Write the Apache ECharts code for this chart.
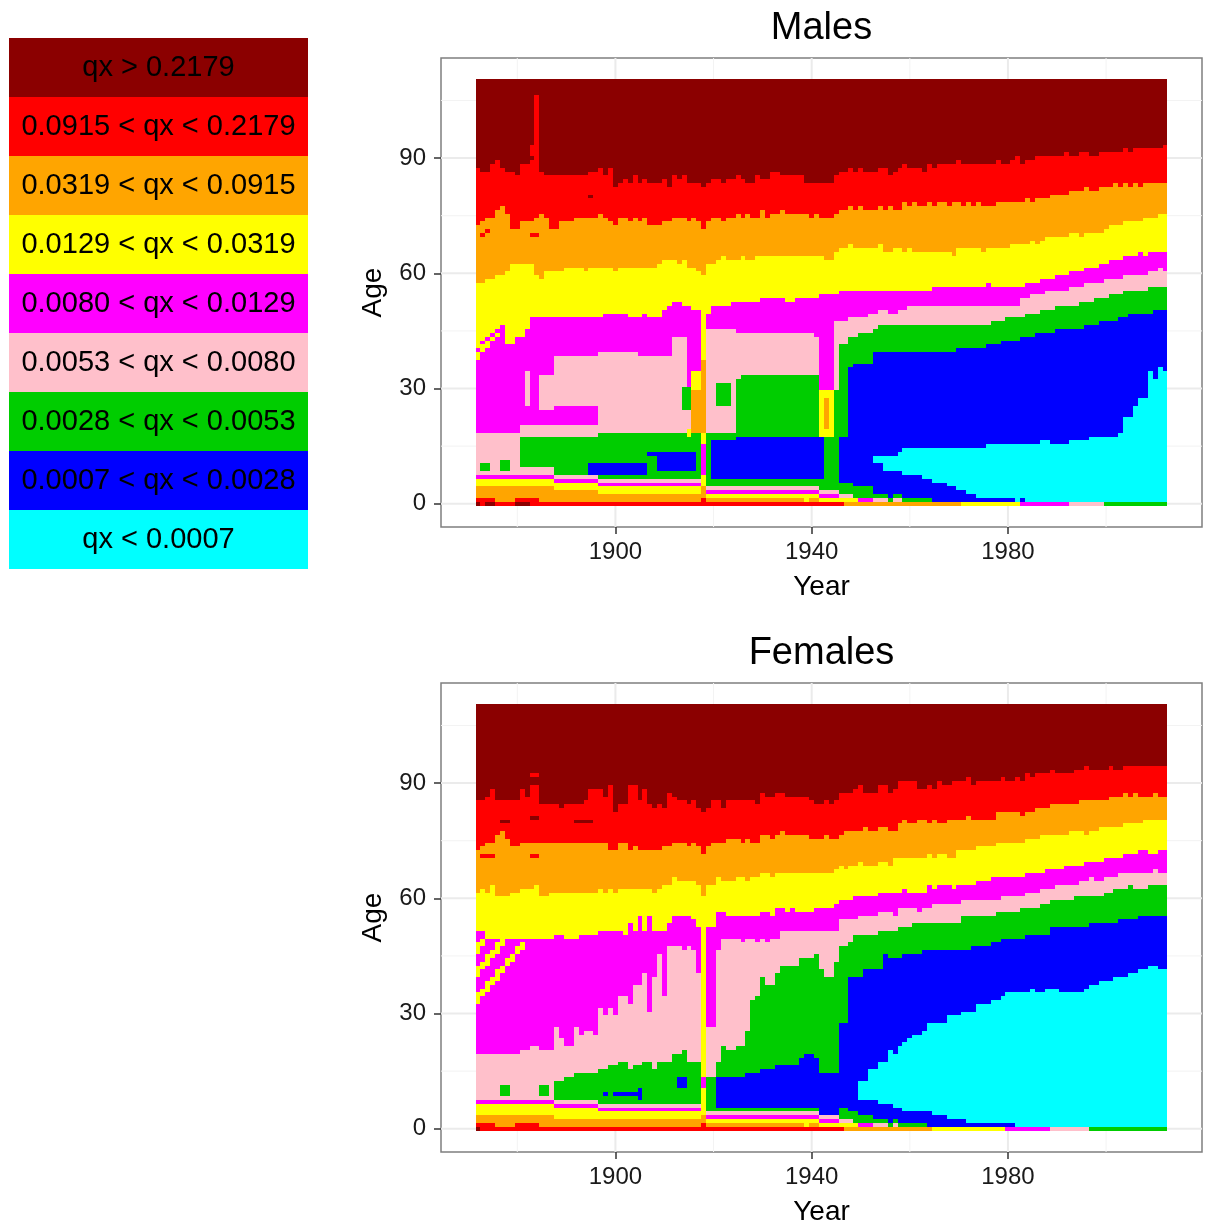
<!DOCTYPE html>
<html><head><meta charset="utf-8">
<script src="https://cdn.jsdelivr.net/npm/echarts@6/dist/echarts.min.js"></script>
<style>html,body{margin:0;padding:0;background:#fff}#chart{width:1208px;height:1227px}</style>
</head><body><div id="chart"></div>
<script>
// ---- classes (index 0 = lowest qx) ----
const COLORS = ['#00FFFF','#0000FF','#00CD00','#FFC0CB','#FF00FF','#FFFF00','#FFA500','#FF0000','#8B0000'];
const LEGEND_LABELS = ['qx > 0.2179','0.0915 < qx < 0.2179','0.0319 < qx < 0.0915','0.0129 < qx < 0.0319','0.0080 < qx < 0.0129','0.0053 < qx < 0.0080','0.0028 < qx < 0.0053','0.0007 < qx < 0.0028','qx < 0.0007'];
const LEGEND_CLASS = [8,7,6,5,4,3,2,1,0];
const FIRST_YEAR = 1872, LAST_YEAR = 2012, MAX_AGE = 110;
const PANEL_TITLES = ['Males','Females'];
const X_MAJOR = [1900,1940,1980], X_MINOR = [1880,1920,1960,2000];
const Y_MAJOR = [0,30,60,90], Y_MINOR = [15,45,75,105];

// ---- Males: rising-branch boundaries b_k = first age with class >= k, as [fromYear, age] runs ----
const M_b1 = [[1872,0],[1955,13],[1958,14],[1959,15],[1976,16],[1987,17],[1989,16],[1993,17],[1997,18],[2003,19],[2004,23],[2006,26],[2007,28],[2009,35],[2010,33],[2011,36],[2012,35]];
const M_b2 = [[1872,0],[1920,17],[1925,18],[1943,0],[1946,18],[1948,36],[1949,37],[1953,40],[1970,41],[1976,42],[1979,43],[1983,44],[1986,45],[1990,46],[1996,47],[1999,48],[2003,49],[2005,50],[2010,51]];
const M_b3 = [[1872,0],[1881,18],[1897,19],[1925,33],[1926,34],[1942,18],[1945,30],[1946,42],[1948,44],[1950,45],[1953,46],[1954,47],[1977,48],[1980,49],[1984,50],[1987,51],[1990,52],[1995,53],[1998,54],[2001,55],[2004,56],[2009,57]];
const M_b4 = [[1872,19],[1881,21],[1888,39],[1897,40],[1905,39],[1912,44],[1915,37],[1919,46],[1925,45],[1941,44],[1942,30],[1945,48],[1948,49],[1952,50],[1954,51],[1956,50],[1958,51],[1960,52],[1983,54],[1985,55],[1988,56],[1993,57],[1996,58],[2000,59],[2004,60],[2009,61],[2011,62],[2012,61]];
const M_b5 = [[1872,41],[1873,43],[1874,44],[1875,45],[1876,46],[1877,47],[1878,42],[1880,44],[1882,46],[1883,49],[1898,50],[1903,49],[1906,50],[1907,49],[1910,51],[1911,52],[1912,53],[1914,52],[1916,51],[1918,60],[1919,50],[1920,52],[1924,53],[1930,54],[1935,53],[1937,54],[1942,55],[1946,56],[1965,57],[1976,58],[1977,57],[1984,58],[1987,59],[1990,60],[1993,61],[1996,62],[1999,63],[2001,64],[2004,65],[2007,66],[2008,65],[2009,66]];
const M_b6 = [[1872,58],[1874,59],[1876,60],[1878,61],[1879,63],[1884,60],[1885,59],[1886,61],[1890,62],[1894,61],[1895,62],[1900,61],[1901,62],[1909,63],[1910,64],[1913,63],[1914,64],[1915,62],[1917,61],[1918,60],[1919,63],[1921,64],[1922,65],[1923,64],[1926,65],[1927,64],[1929,65],[1943,64],[1945,66],[1946,67],[1948,68],[1949,67],[1954,68],[1955,66],[1957,67],[1959,66],[1960,67],[1961,66],[1969,65],[1970,67],[1975,66],[1976,67],[1981,68],[1985,69],[1986,68],[1987,69],[1988,70],[1993,71],[1995,70],[1996,71],[2000,72],[2001,73],[2004,74],[2008,75],[2011,76]];
const M_b7 = [[1872,73],[1873,74],[1874,75],[1876,77],[1877,78],[1878,76],[1879,72],[1881,74],[1884,75],[1885,76],[1886,75],[1887,72],[1889,74],[1892,75],[1897,76],[1898,75],[1899,74],[1900,73],[1901,75],[1903,74],[1904,75],[1905,74],[1906,75],[1907,73],[1910,74],[1912,75],[1915,74],[1916,75],[1917,74],[1918,72],[1919,74],[1920,75],[1922,74],[1923,75],[1925,76],[1926,75],[1927,76],[1928,75],[1930,77],[1931,75],[1932,76],[1934,77],[1935,76],[1940,75],[1941,76],[1942,75],[1945,76],[1946,77],[1948,78],[1949,77],[1950,78],[1951,77],[1954,78],[1955,77],[1956,78],[1957,77],[1959,79],[1960,78],[1961,79],[1962,78],[1964,79],[1965,78],[1966,79],[1968,78],[1969,79],[1971,78],[1972,79],[1973,78],[1974,79],[1975,78],[1978,79],[1984,80],[1985,79],[1986,80],[1989,81],[1993,82],[1996,83],[1997,82],[1999,83],[2002,84],[2003,83],[2004,84],[2005,83],[2006,84],[2007,83],[2008,84]];
const M_b8 = [[1872,88],[1873,87],[1875,89],[1876,90],[1877,88],[1878,87],[1880,86],[1881,89],[1883,90],[1884,107],[1885,87],[1886,86],[1895,87],[1897,88],[1898,86],[1899,88],[1900,83],[1901,84],[1902,85],[1903,84],[1904,86],[1905,84],[1906,85],[1907,84],[1910,85],[1911,83],[1912,86],[1913,85],[1914,86],[1915,84],[1918,83],[1919,84],[1920,85],[1922,84],[1923,85],[1925,86],[1926,85],[1927,84],[1929,86],[1930,85],[1932,87],[1934,86],[1939,84],[1945,86],[1946,87],[1948,88],[1949,87],[1950,88],[1951,87],[1954,88],[1956,86],[1957,87],[1958,88],[1959,89],[1960,88],[1963,87],[1964,89],[1965,88],[1966,89],[1970,90],[1971,89],[1978,90],[1979,89],[1981,90],[1982,91],[1983,89],[1984,90],[1986,91],[1992,92],[1993,91],[1995,92],[1997,91],[1999,92],[2004,93],[2005,92],[2006,93],[2012,94]];
// ---- Males: falling branch d_k = number of ages from 0 with class >= k ----
const M_d1 = [[1872,0],[1955,9],[1959,8],[1963,7],[1965,6],[1968,5],[1970,4],[1972,3],[1974,2],[1982,1],[1983,2],[1984,1]];
const M_d2 = [[1872,0],[1919,7],[1943,0],[1946,6],[1949,5],[1953,3],[1956,2],[1957,3],[1959,2],[1965,1]];
const M_d3 = [[1872,9],[1881,10],[1888,8],[1897,7],[1918,8],[1919,5],[1942,4],[1946,3],[1949,2],[1956,1],[1957,2],[1959,1],[2000,0]];
const M_d4 = [[1872,8],[1888,7],[1897,6],[1918,7],[1919,4],[1942,3],[1946,2],[1953,1],[1993,0]];
const M_d5 = [[1872,7],[1888,6],[1897,5],[1918,6],[1919,3],[1942,2],[1950,1],[1983,0]];
const M_d6 = [[1872,5],[1888,4],[1897,3],[1918,5],[1919,2],[1939,1],[1940,2],[1942,1],[1971,0]];
const M_d7 = [[1872,2],[1876,1],[1880,2],[1885,1],[1918,2],[1919,1],[1947,0]];
const M_d8 = [[1872,1],[1873,0],[1874,1],[1876,0],[1880,1],[1883,0]];
// ---- Males: local blobs [yearFrom, yearTo, ageFrom, ageTo, class] ----
const M_patch = [[1873,1873,70,70,7],[1874,1874,71,71,7],[1883,1883,91,93,7],[1883,1884,70,70,7],[1895,1895,80,80,8],
 [1872,1872,38,39,5],[1873,1873,40,41,5],[1874,1874,41,42,5],[1875,1875,43,43,5],[1876,1876,44,44,5],
 [1873,1874,9,10,2],[1877,1878,9,11,2],[1882,1882,26,34,3],[1885,1887,25,33,3],[1888,1896,21,25,4],
 [1895,1906,8,10,1],[1907,1908,13,13,1],[1909,1916,9,13,1],[1914,1915,25,30,2],
 [1915,1915,31,37,4],[1915,1915,18,19,5],[1916,1917,19,29,6],[1916,1917,30,34,5],[1916,1917,35,38,4],
 [1918,1918,5,7,5],[1918,1918,8,15,4],[1918,1918,16,18,5],[1918,1918,19,37,6],[1918,1918,38,59,5],
 [1921,1923,26,31,2],[1942,1944,18,29,5],[1943,1943,20,27,6],[1953,1954,11,12,0]];

// ---- Females ----
const F_b1 = [[1872,0],[1950,13],[1952,16],[1954,18],[1956,21],[1957,20],[1958,22],[1959,23],[1960,24],[1961,25],[1963,26],[1964,28],[1968,30],[1971,31],[1974,33],[1977,34],[1979,35],[1980,36],[1985,37],[1986,36],[1988,37],[1991,36],[1996,37],[1997,38],[1999,39],[2002,40],[2005,41],[2007,42],[2009,43],[2011,42]];
const F_b2 = [[1872,0],[1921,14],[1927,15],[1930,16],[1933,17],[1938,19],[1939,20],[1941,19],[1942,15],[1946,28],[1948,40],[1951,42],[1955,46],[1956,45],[1959,46],[1963,47],[1973,48],[1977,49],[1979,50],[1984,51],[1989,53],[1997,54],[2003,55],[2007,56]];
const F_b3 = [[1872,0],[1888,13],[1890,14],[1892,15],[1897,16],[1899,17],[1901,18],[1903,16],[1904,17],[1906,18],[1908,16],[1909,18],[1912,20],[1914,21],[1915,18],[1919,14],[1921,18],[1922,22],[1923,21],[1925,22],[1927,26],[1928,34],[1929,35],[1930,40],[1931,38],[1933,41],[1934,43],[1938,45],[1941,46],[1942,42],[1943,40],[1945,44],[1946,48],[1948,49],[1949,51],[1954,52],[1958,53],[1961,54],[1971,56],[1978,57],[1983,58],[1987,59],[1989,60],[1994,61],[2000,62],[2002,63],[2005,64],[2006,63],[2009,64]];
const F_b4 = [[1872,20],[1881,21],[1883,22],[1885,21],[1888,27],[1889,24],[1890,22],[1892,27],[1893,25],[1894,26],[1896,25],[1897,32],[1898,30],[1899,32],[1900,30],[1901,35],[1903,33],[1904,38],[1906,41],[1907,31],[1908,40],[1909,46],[1910,35],[1911,48],[1914,47],[1915,48],[1916,47],[1917,41],[1919,27],[1921,47],[1922,50],[1926,49],[1927,50],[1929,49],[1930,50],[1931,49],[1932,50],[1934,52],[1946,55],[1950,56],[1954,57],[1957,56],[1958,58],[1962,57],[1963,58],[1965,59],[1971,60],[1979,61],[1984,62],[1987,63],[1990,64],[1995,65],[1997,66],[1998,65],[2000,66],[2003,67],[2010,68],[2011,67]];
const F_b5 = [[1872,52],[1874,50],[1888,51],[1890,50],[1893,51],[1897,52],[1902,51],[1903,54],[1904,52],[1905,56],[1906,52],[1907,56],[1908,52],[1911,54],[1912,56],[1916,55],[1917,53],[1918,58],[1919,53],[1921,57],[1923,56],[1930,57],[1932,56],[1933,58],[1935,57],[1936,58],[1937,57],[1941,58],[1945,59],[1946,60],[1949,61],[1954,62],[1959,63],[1960,62],[1964,64],[1965,63],[1966,64],[1969,63],[1970,64],[1974,65],[1977,66],[1984,67],[1988,68],[1992,69],[1996,70],[2000,71],[2004,72],[2007,73],[2009,72],[2011,73]];
const F_b6 = [[1872,62],[1873,63],[1874,62],[1875,64],[1876,61],[1879,62],[1881,63],[1884,64],[1885,61],[1887,62],[1897,63],[1898,62],[1899,63],[1900,62],[1901,63],[1908,62],[1909,63],[1910,64],[1912,66],[1913,65],[1917,64],[1918,61],[1919,64],[1921,66],[1922,65],[1925,66],[1927,65],[1928,66],[1930,67],[1932,66],[1933,67],[1945,68],[1946,69],[1947,68],[1948,69],[1950,70],[1951,69],[1954,70],[1956,69],[1957,71],[1964,72],[1965,71],[1966,72],[1968,71],[1970,73],[1974,74],[1978,75],[1984,76],[1987,77],[1993,78],[1996,77],[1997,78],[1999,79],[2004,80],[2008,81]];
const F_b7 = [[1872,73],[1873,74],[1874,75],[1876,77],[1877,78],[1878,76],[1879,74],[1881,75],[1899,73],[1901,75],[1903,73],[1904,74],[1905,73],[1910,74],[1912,75],[1915,74],[1916,75],[1917,74],[1918,72],[1919,74],[1920,75],[1923,76],[1926,75],[1927,76],[1928,75],[1930,77],[1932,76],[1933,77],[1934,78],[1935,77],[1940,76],[1943,77],[1944,76],[1946,77],[1947,78],[1951,79],[1952,78],[1954,79],[1956,78],[1958,80],[1959,81],[1960,80],[1962,81],[1964,80],[1965,81],[1966,80],[1968,81],[1972,82],[1973,81],[1978,83],[1983,82],[1984,83],[1986,84],[1989,85],[1995,86],[2001,87],[2004,88],[2005,87],[2006,88],[2007,87],[2010,88],[2011,87]];
const F_b8 = [[1872,86],[1874,87],[1875,89],[1876,86],[1881,89],[1882,87],[1883,90],[1885,85],[1889,84],[1890,85],[1894,86],[1895,89],[1898,87],[1899,90],[1900,83],[1901,85],[1903,90],[1905,86],[1906,89],[1907,85],[1908,84],[1909,85],[1910,84],[1911,88],[1912,87],[1913,86],[1915,85],[1916,86],[1917,84],[1918,83],[1919,84],[1920,86],[1922,84],[1923,86],[1929,85],[1930,88],[1931,87],[1933,88],[1935,87],[1940,86],[1941,85],[1943,86],[1944,85],[1945,86],[1946,88],[1949,89],[1950,90],[1951,88],[1954,90],[1956,88],[1957,89],[1958,91],[1962,89],[1964,90],[1965,89],[1966,91],[1967,90],[1969,91],[1972,92],[1973,90],[1974,91],[1979,92],[1980,91],[1982,92],[1983,91],[1984,93],[1985,92],[1986,93],[1989,94],[1990,93],[1994,94],[1996,95],[1997,94],[2001,95],[2002,94],[2004,95]];
const F_d1 = [[1872,0],[1950,8],[1954,7],[1957,6],[1959,5],[1965,4],[1968,3],[1972,2],[1982,1]];
const F_d2 = [[1872,0],[1921,6],[1942,4],[1946,6],[1948,5],[1950,4],[1953,3],[1956,2],[1957,3],[1958,2],[1964,1]];
const F_d3 = [[1872,9],[1888,8],[1897,7],[1918,8],[1919,5],[1942,4],[1946,3],[1949,2],[1956,1],[1957,2],[1958,1],[1997,0]];
const F_d4 = [[1872,8],[1888,7],[1897,6],[1918,7],[1919,4],[1942,3],[1946,2],[1953,1],[1989,0]];
const F_d5 = [[1872,7],[1888,6],[1897,5],[1918,4],[1919,3],[1942,2],[1950,1],[1980,0]];
const F_d6 = [[1872,4],[1888,3],[1918,4],[1919,2],[1939,1],[1940,2],[1942,1],[1965,0]];
const F_d7 = [[1872,2],[1876,1],[1880,2],[1885,1],[1918,2],[1919,1],[1947,0]];
const F_d8 = [[1872,1],[1873,0]];
const F_patch = [[1873,1875,71,71,7],[1883,1884,71,71,7],[1883,1884,92,92,7],[1877,1878,80,80,8],[1883,1884,81,81,8],[1892,1895,80,80,8],
 [1872,1872,46,48,5],[1873,1873,48,49,5],
 [1872,1872,40,42,5],[1873,1873,42,43,5],[1874,1874,43,45,5],[1875,1875,45,46,5],[1876,1876,46,48,5],[1877,1877,48,49,5],
 [1872,1872,33,35,5],[1873,1873,35,36,5],[1874,1874,36,38,5],[1875,1875,38,39,5],[1876,1876,39,41,5],[1877,1877,41,42,5],[1878,1878,43,44,5],[1879,1879,44,45,5],[1880,1880,46,47,5],[1881,1881,47,48,5],
 [1877,1878,9,11,2],[1885,1886,9,11,2],[1898,1898,9,9,1],[1900,1905,9,9,1],[1905,1905,8,10,1],[1913,1914,11,13,1],
 [1918,1918,4,57,5],[1918,1918,11,13,4]];

// ---- build cells ----
function expand(runs){
  const out = {}; let i = 0;
  for (let y = FIRST_YEAR; y <= LAST_YEAR; y++){
    while (i + 1 < runs.length && runs[i+1][0] <= y) i++;
    out[y] = runs[i][1];
  }
  return out;
}
function buildCells(up, down, patches){
  const U = up.map(expand), D = down.map(expand);
  const items = [];
  for (let y = FIRST_YEAR; y <= LAST_YEAR; y++){
    const col = [];
    for (let a = 0; a <= MAX_AGE; a++){
      let u = 0, d = 0;
      for (let k = 0; k < 8; k++){ if (a >= U[k][y]) u = k + 1; if (a < D[k][y]) d = k + 1; }
      col.push(Math.max(u, d));
    }
    patches.forEach(p => { if (y >= p[0] && y <= p[1]) for (let a = p[2]; a <= p[3]; a++) col[a] = p[4]; });
    let s = 0;
    for (let a = 1; a <= MAX_AGE + 1; a++){
      if (a > MAX_AGE || col[a] !== col[s]){ items.push([y, s, a - 1, col[s]]); s = a; }
    }
  }
  return items;
}
const panels = [
  buildCells([M_b1,M_b2,M_b3,M_b4,M_b5,M_b6,M_b7,M_b8],[M_d1,M_d2,M_d3,M_d4,M_d5,M_d6,M_d7,M_d8],M_patch),
  buildCells([F_b1,F_b2,F_b3,F_b4,F_b5,F_b6,F_b7,F_b8],[F_d1,F_d2,F_d3,F_d4,F_d5,F_d6,F_d7,F_d8],F_patch)
];
const gridData = [].concat(X_MAJOR.map(v=>[v,0,1]), X_MINOR.map(v=>[v,0,0]), Y_MAJOR.map(v=>[v,1,1]), Y_MINOR.map(v=>[v,1,0]));

const FONT = "'Liberation Sans', Arial, Helvetica, sans-serif";
const GRID_TOPS = [58, 683];
const chart = echarts.init(document.getElementById('chart'), null, {renderer:'canvas', width:1208, height:1227});

function cellRender(params, api){
  const yr = api.value(0), a0 = api.value(1), a1 = api.value(2), c = api.value(3);
  const p0 = api.coord([yr - 0.5, a1 + 0.5]);
  const p1 = api.coord([yr + 0.5, a0 - 0.5]);
  const x0 = Math.round(p0[0]), x1 = Math.round(p1[0]), y0 = Math.round(p0[1]), y1 = Math.round(p1[1]);
  return {type:'rect', shape:{x:x0, y:y0, width:x1 - x0, height:y1 - y0}, style:{fill:COLORS[c]}};
}
function gridRender(params, api){
  const v = api.value(0), isY = api.value(1), major = api.value(2);
  const cs = params.coordSys;
  let shape;
  if (!isY){ const px = api.coord([v, 0])[0]; shape = {x1:px, y1:cs.y, x2:px, y2:cs.y + cs.height}; }
  else { const py = api.coord([1900, v])[1]; shape = {x1:cs.x, y1:py, x2:cs.x + cs.width, y2:py}; }
  return {type:'line', shape, style:{stroke: major ? '#EBEBEB' : '#F3F3F3', lineWidth: major ? 2 : 1}};
}

const grids = [], xAxes = [], yAxes = [], series = [], graphics = [];
PANEL_TITLES.forEach((t, i) => {
  grids.push({left:441, top:GRID_TOPS[i], width:761, height:469, show:true, backgroundColor:'#fff', borderColor:'#7F7F7F', borderWidth:1.5});
  xAxes.push({gridIndex:i, type:'value', min:1864.45, max:2019.55,
    axisLine:{show:false, onZero:false}, splitLine:{show:false},
    axisTick:{show:true, customValues:X_MAJOR, length:7, lineStyle:{color:'#333', width:1.5}},
    axisLabel:{customValues:X_MAJOR, formatter:v => String(v), fontSize:24, color:'#1a1a1a', margin:13, fontFamily:FONT},
    name:'Year', nameLocation:'middle', nameGap:46, nameTextStyle:{fontSize:28, color:'#000', fontFamily:FONT}});
  yAxes.push({gridIndex:i, type:'value', min:-6.05, max:116.05,
    axisLine:{show:false, onZero:false}, splitLine:{show:false},
    axisTick:{show:true, customValues:Y_MAJOR, length:7, lineStyle:{color:'#333', width:1.5}},
    axisLabel:{customValues:Y_MAJOR, formatter:v => String(v), fontSize:24, color:'#1a1a1a', margin:15, fontFamily:FONT},
    name:'Age', nameLocation:'middle', nameGap:54, nameRotate:90, nameTextStyle:{fontSize:28, color:'#000', fontFamily:FONT}});
  series.push({type:'custom', name:'grid'+i, xAxisIndex:i, yAxisIndex:i, z:1, silent:true, data:gridData, renderItem:gridRender, encode:{x:0, y:1}});
  series.push({type:'custom', name:t, xAxisIndex:i, yAxisIndex:i, z:2, silent:true, data:panels[i], renderItem:cellRender, encode:{x:0, y:1}});
  graphics.push({type:'text', x:821.5, y:GRID_TOPS[i] - 48, style:{text:t, font:'38px ' + FONT, fill:'#000', textAlign:'center', textVerticalAlign:'top'}});
});
LEGEND_LABELS.forEach((lab, i) => {
  graphics.push({type:'rect', shape:{x:9, y:38 + i*59, width:299, height:59}, style:{fill:COLORS[LEGEND_CLASS[i]]}});
  graphics.push({type:'text', x:158.5, y:38 + i*59 + 30, style:{text:lab, font:'29px ' + FONT, fill:'#000', textAlign:'center', textVerticalAlign:'middle'}});
});

chart.setOption({animation:false, backgroundColor:'#fff', grid:grids, xAxis:xAxes, yAxis:yAxes, series:series, graphic:graphics});
</script></body></html>
